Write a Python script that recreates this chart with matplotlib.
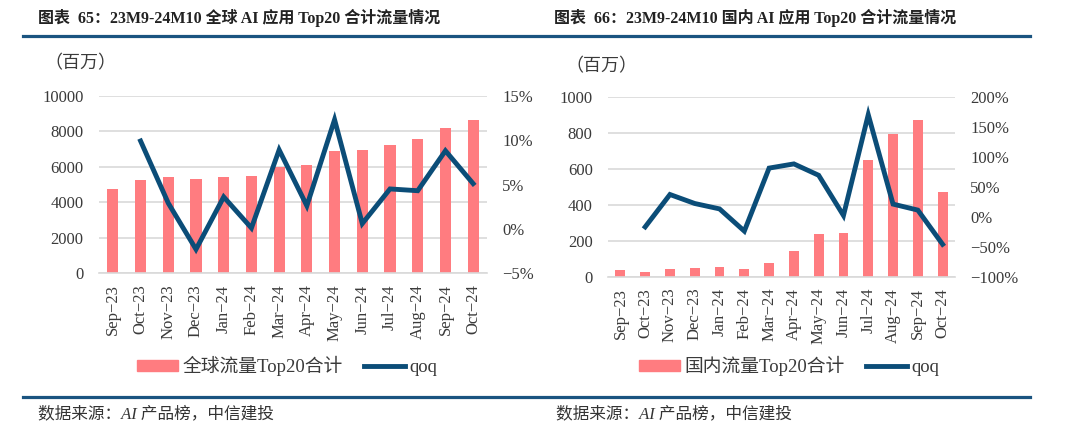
import numpy as np
import matplotlib.pyplot as plt
from matplotlib.patches import Patch
from matplotlib.lines import Line2D

# data
months = ['Sep-23', 'Oct-23', 'Nov-23', 'Dec-23', 'Jan-24', 'Feb-24', 'Mar-24',
          'Apr-24', 'May-24', 'Jun-24', 'Jul-24', 'Aug-24', 'Sep-24', 'Oct-24']
global_traffic = [4750, 5250, 5400, 5300, 5450, 5480, 6000,
                  6100, 6900, 6950, 7250, 7550, 8200, 8650]
global_qoq = [np.nan, 9.9, 2.9, -2.3, 3.6, 0.1, 8.9,
              2.6, 12.3, 0.6, 4.5, 4.3, 8.8, 5.1]
china_traffic = [35, 28, 41, 48, 54, 41, 76,
                 141, 237, 243, 650, 794, 869, 469]
china_qoq = [np.nan, -17, 37, 22, 13, -24, 81,
             88, 69, 2, 170, 21, 11, -46]

BAR_C = '#FF7C80'
LINE_C = '#0B4D78'
RULE_C = '#1A5480'
TXT_C = '#3A3A3A'
LAT = ['Liberation Serif', 'Noto Sans CJK SC']
CJK = ['Noto Sans CJK SC', 'DejaVu Sans']

W, H = 1080, 440
fig = plt.figure(figsize=(W / 100, H / 100), dpi=100)


def px_axes(x0, y0, x1, y1):
    return fig.add_axes([x0 / W, 1 - y1 / H, (x1 - x0) / W, (y1 - y0) / H])


def pct(v):
    s = '%d%%' % v
    return s.replace('-', '\u2212')


def panel(box, bars, qoq, ylim, yticks, rlim, rticks, leg_label, leg_x):
    ax = px_axes(*box)
    x = np.arange(len(months))
    ax.bar(x, bars, width=0.4, color=BAR_C, zorder=2)
    ax.set_xlim(-0.5, len(months) - 0.5)
    ax.set_ylim(*ylim)
    ax.set_yticks(yticks)
    ax.set_yticklabels([str(t) for t in yticks], family=LAT, fontsize=12, color=TXT_C)
    ax.set_xticks(x)
    ax.set_xticklabels([m.replace('-', '\u2212') for m in months], rotation=90,
                       family=LAT, fontsize=12, color=TXT_C)
    ax.grid(axis='y', color='#D9D9D9', lw=1.2, zorder=0)
    for s in ['top', 'left', 'right']:
        ax.spines[s].set_visible(False)
    ax.spines['bottom'].set_color('#D9D9D9')
    ax.spines['bottom'].set_linewidth(1.2)
    ax.tick_params(axis='y', length=0, pad=11)
    ax.tick_params(axis='x', length=0, pad=8)

    ax2 = ax.twinx()
    ax2.plot(x, qoq, color=LINE_C, lw=3.5, solid_joinstyle='miter', zorder=3)
    ax2.set_ylim(*rlim)
    ax2.set_yticks(rticks)
    ax2.set_yticklabels([pct(t) for t in rticks], family=LAT, fontsize=12, color=TXT_C)
    ax2.tick_params(length=0, pad=11)
    for s in ax2.spines.values():
        s.set_visible(False)

    handles = [Patch(color=BAR_C), Line2D([0], [0], color=LINE_C, lw=3.5)]
    fig.legend(handles, [leg_label, 'qoq'], loc='center left',
               bbox_to_anchor=(leg_x / W, 1 - 366 / H), ncol=2, frameon=False,
               prop={'family': LAT, 'size': 13.5}, handlelength=2.2,
               handleheight=0.55, columnspacing=1.1, handletextpad=0.25,
               labelcolor=TXT_C)
    return ax


panel((99, 95.7, 487, 273.3), global_traffic, global_qoq,
      (0, 10000), [0, 2000, 4000, 6000, 8000, 10000],
      (-5, 15), [-5, 0, 5, 10, 15], '全球流量Top20合计', 120)
panel((608, 96.7, 955, 276.7), china_traffic, china_qoq,
      (0, 1000), [0, 200, 400, 600, 800, 1000],
      (-100, 200), [-100, -50, 0, 50, 100, 150, 200], '国内流量Top20合计', 622)

# titles, units, rules, sources
fig.text(38 / W, 1 - 18 / H, '图表  65：23M9-24M10 全球 AI 应用 Top20 合计流量情况',
         family=LAT, weight='bold', fontsize=11.5, va='center', color='#222222')
fig.text(554 / W, 1 - 18 / H, '图表  66：23M9-24M10 国内 AI 应用 Top20 合计流量情况',
         family=LAT, weight='bold', fontsize=11.5, va='center', color='#222222')
fig.text(44 / W, 1 - 63 / H, '（百万）', family=CJK, fontsize=13, va='center', color=TXT_C)
fig.text(565 / W, 1 - 66 / H, '（百万）', family=CJK, fontsize=13, va='center', color=TXT_C)

for yy in [35.7, 397.3]:
    fig.add_artist(Line2D([23 / W, 1030 / W], [1 - yy / H, 1 - yy / H],
                          color=RULE_C, lw=2.3, transform=fig.transFigure))

fig.text(38 / W, 1 - 414 / H, '数据来源：AI 产品榜，中信建投', family=LAT,
         fontsize=12, style='italic', va='center', color='#333333')
fig.text(556 / W, 1 - 414 / H, '数据来源：AI 产品榜，中信建投', family=LAT,
         fontsize=12, style='italic', va='center', color='#333333')

fig.savefig('out.png', dpi=100)
